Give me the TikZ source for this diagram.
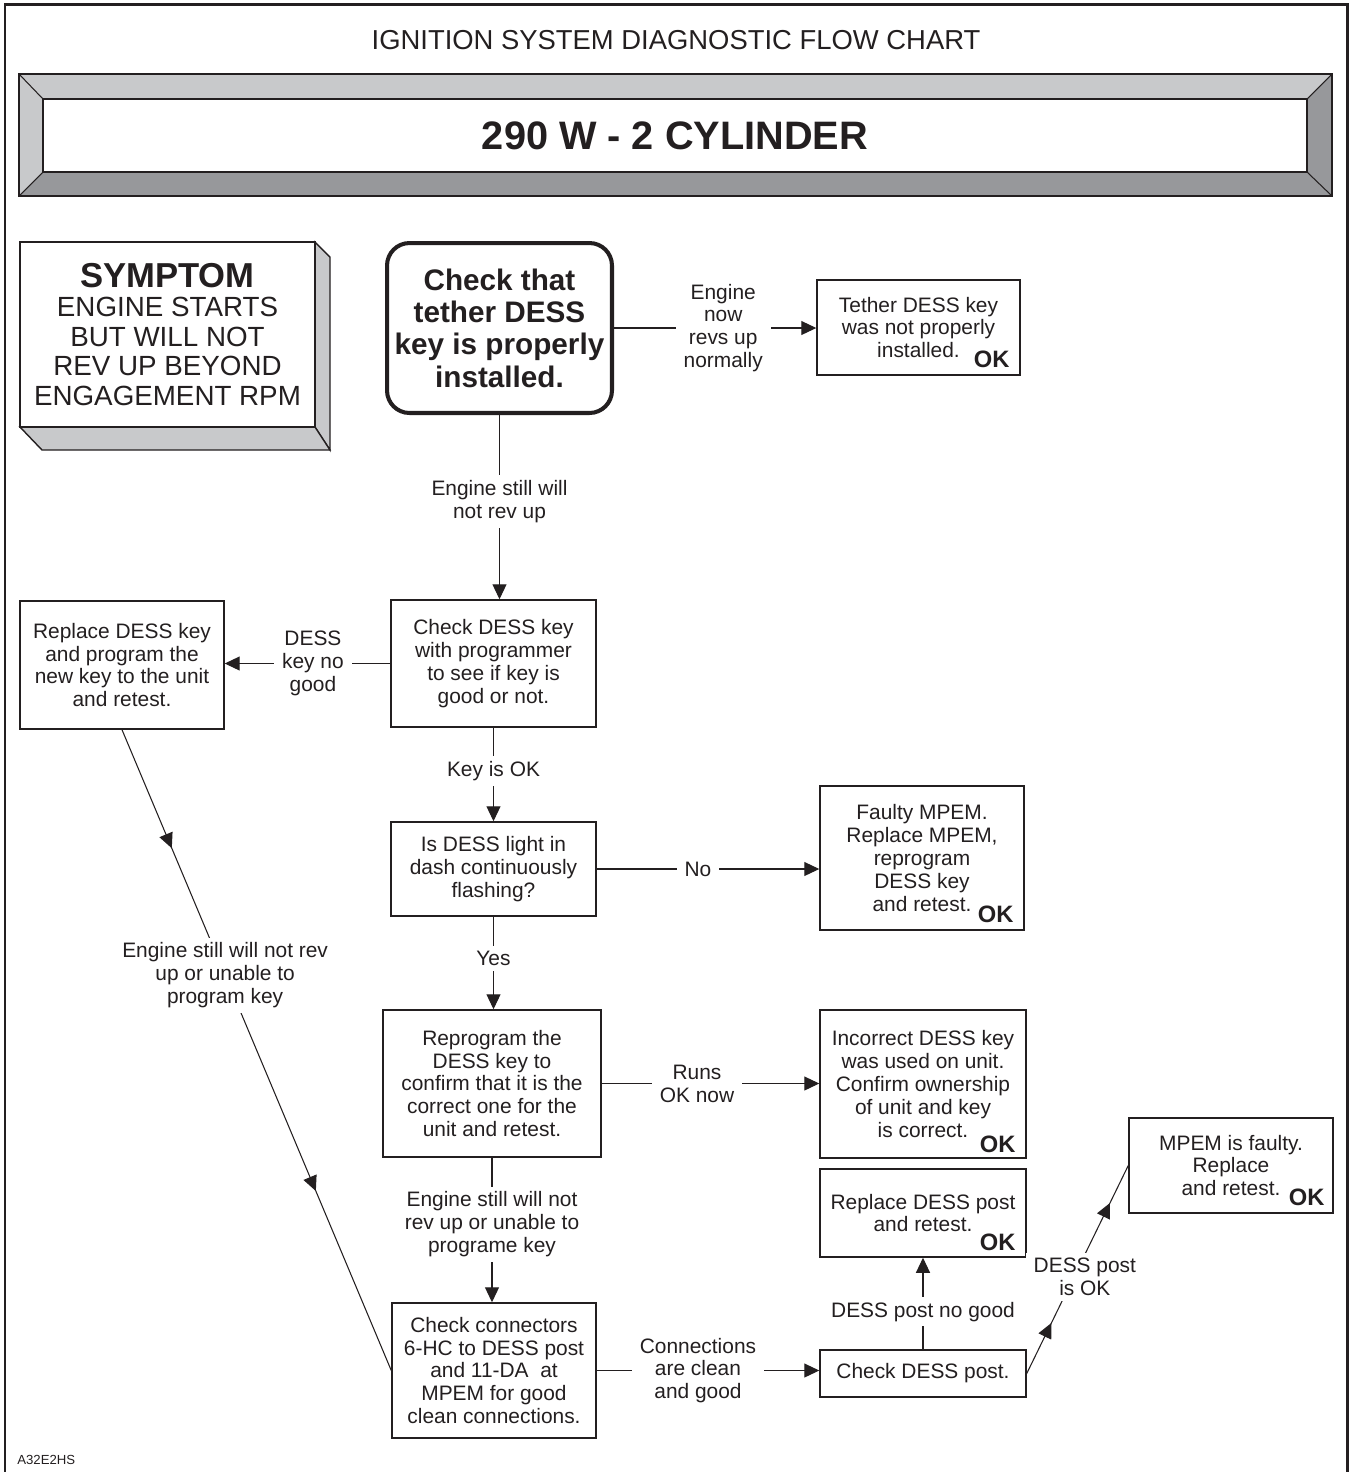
\documentclass[tikz,border=0pt]{standalone}
\usepackage{fontspec}
\setmainfont{Liberation Sans}
\usetikzlibrary{arrows.meta,decorations.markings}
\definecolor{ink}{HTML}{231F20}
\definecolor{bevlight}{HTML}{C8C9CB}
\definecolor{bevdark}{HTML}{97989B}
\begin{document}
\begin{tikzpicture}[x=0.02cm,y=-0.02cm,
  every node/.style={text=ink},
  body/.style={font=\fontsize{11.9}{13}\selectfont},
  stepbox/.style={draw=ink, line width=0.85pt, fill=white, body, align=center, inner sep=0pt},
  okmark/.style={font=\fontsize{13.5}{14}\selectfont\bfseries, inner sep=0pt, anchor=south east},
  link/.style={draw=ink, line width=0.6pt},
  tip/.style={-{Triangle[length=0.3cm,width=0.28cm]}},
  lbl/.style={body, fill=white, align=center, inner xsep=0.16cm, inner ysep=0.1cm},
  diagarrows/.style 2 args={postaction={decorate}, decoration={markings,
    mark=at position #1 with {\arrow{Triangle[length=0.3cm,width=0.28cm]}},
    mark=at position #2 with {\arrow{Triangle[length=0.3cm,width=0.28cm]}}}},
]
\useasboundingbox (0,0) rectangle (1355,1472);

% outer frame, open at the bottom
\draw[ink, line width=1.7pt] (5,1472) -- (5,4) -- (1347,4) -- (1347,1472);

% chart title
\node[font=\fontsize{15.6}{17}\selectfont, inner sep=0pt] (title) at (676,40) {IGNITION SYSTEM DIAGNOSTIC FLOW CHART};

% bevelled model banner
\fill[bevlight] (19,74) -- (1332,74) -- (1307,99) -- (43,99) -- cycle;
\fill[bevlight] (19,74) -- (43,99) -- (43,172) -- (19,196) -- cycle;
\fill[bevdark] (1332,74) -- (1332,196) -- (1307,172) -- (1307,99) -- cycle;
\fill[bevdark] (19,196) -- (43,172) -- (1307,172) -- (1332,196) -- cycle;
\draw[ink, line width=0.8pt] (19,74) rectangle (1332,196);
\draw[ink, line width=0.6pt] (19,74) -- (43,99) (1332,74) -- (1307,99)
  (19,196) -- (43,172) (1332,196) -- (1307,172);
\node[draw=ink, line width=0.8pt, fill=white, minimum width=25.28cm, minimum height=1.46cm, inner sep=0pt,
  font=\fontsize{22.6}{24}\selectfont\bfseries] (model) at (675,135.5) {290 W - 2 CYLINDER};

% symptom block with extruded sides
\filldraw[fill=bevlight, draw=ink, line width=0.8pt] (315,242) -- (330,257) -- (330,450) -- (315,427) -- cycle;
\filldraw[fill=bevlight, draw=ink, line width=0.8pt] (20,427) -- (42,450) -- (330,450) -- (315,427) -- cycle;
\node[draw=ink, line width=0.8pt, fill=white, minimum width=5.9cm, minimum height=3.7cm, inner sep=0pt,
  align=center, font=\fontsize{15.8}{16.8}\selectfont] (sym) at (167.5,334.5)
  {{\fontsize{19.7}{16.8}\selectfont\bfseries SYMPTOM}\\ENGINE STARTS\\BUT WILL NOT\\REV UP BEYOND\\ENGAGEMENT RPM};

% first check
\node[draw=ink, line width=2.3pt, rounded corners=0.45cm, minimum width=4.5cm, minimum height=3.4cm,
  inner sep=0pt, align=center, font=\fontsize{16.9}{18.4}\selectfont\bfseries] (rb) at (499.5,328)
  {Check that\\tether DESS\\key is properly\\installed.};

% process boxes
\node[stepbox, minimum width=4.06cm, minimum height=1.9cm] (teth) at (918.5,327.5)
  {Tether DESS key\\was not properly\\installed.};
\node[stepbox, minimum width=4.1cm, minimum height=2.54cm] (ck) at (493.5,663.5)
  {Check DESS key\\with programmer\\to see if key is\\good or not.};
\node[stepbox, minimum width=4.08cm, minimum height=2.56cm] (rep) at (122,665)
  {Replace DESS key\\and program the\\new key to the unit\\and retest.};
\node[stepbox, minimum width=4.1cm, minimum height=1.88cm] (light) at (493.5,869)
  {Is DESS light in\\dash continuously\\flashing?};
\node[stepbox, minimum width=4.08cm, minimum height=2.88cm] (faulty) at (922,858)
  {Faulty MPEM.\\Replace MPEM,\\reprogram\\DESS key\\and retest.};
\node[stepbox, minimum width=4.36cm, minimum height=2.94cm] (reprog) at (492,1083.5)
  {Reprogram the\\DESS key to\\confirm that it is the\\correct one for the\\unit and retest.};
\node[stepbox, minimum width=4.12cm, minimum height=2.96cm] (incorrect) at (923,1084)
  {Incorrect DESS key\\was used on unit.\\Confirm ownership\\of unit and key\\is correct.};
\node[stepbox, minimum width=4.12cm, minimum height=1.76cm] (rpost) at (923,1213)
  {Replace DESS post\\and retest.};
\node[stepbox, minimum width=4.12cm, minimum height=0.94cm] (post) at (923,1373.5)
  {Check DESS post.};
\node[stepbox, minimum width=4.08cm, minimum height=1.9cm] (mpem) at (1231,1165.5)
  {MPEM is faulty.\\Replace\\and retest.};
\node[stepbox, minimum width=4.08cm, minimum height=2.7cm] (conn) at (494,1370.5)
  {Check connectors\\6-HC to DESS post\\and 11-DA~~at\\MPEM for good\\clean connections.};

% OK marks
\node[okmark] (okA) at ([shift={(-11,-8)}]teth.south east) {OK};
\node[okmark] (okB) at ([shift={(-11,-8)}]faulty.south east) {OK};
\node[okmark] (okC) at ([shift={(-11,-6)}]incorrect.south east) {OK};
\node[okmark] (okD) at ([shift={(-11,-7)}]rpost.south east) {OK};
\node[okmark] (okE) at ([shift={(-9,-8)}]mpem.south east) {OK};

% connectors
\draw[link,tip] (rb.south) -- node[lbl,pos=0.47]{Engine still will\\not rev up} (rb.south |- ck.north);
\draw[link,tip] (rb.east) -- node[lbl,pos=0.54]{Engine\\now\\revs up\\normally} (rb.east -| teth.west);
\draw[link,tip] (ck.west) -- node[lbl,pos=0.467]{DESS\\key no\\good} (ck.west -| rep.east);
\draw[link,tip] (ck.south) -- node[lbl,pos=0.46]{Key is OK} (ck.south |- light.north);
\draw[link,tip] (light.east) -- node[lbl,pos=0.455]{No} (light.east -| faulty.west);
\draw[link,tip] (light.south) -- node[lbl,pos=0.45]{Yes} (light.south |- reprog.north);
\draw[link,tip] (reprog.east) -- node[lbl,pos=0.438]{Runs\\OK now} (reprog.east -| incorrect.west);
\draw[link,tip] (reprog.south) -- node[lbl,pos=0.46]{Engine still will not\\rev up or unable to\\programe key} (reprog.south |- conn.north);
\draw[link,tip] (conn.east) -- node[lbl,pos=0.455]{Connections\\are clean\\and good} (conn.east -| post.west);
\draw[link,tip] (post.north) -- node[lbl,pos=0.41]{DESS post no good} (rpost.south);
\draw[link, diagarrows={0.243}{0.82}] (post.east) -- node[lbl,pos=0.464,xshift=0.22cm]{DESS post\\is OK} (mpem.west);
\draw[link, diagarrows={0.185}{0.72}] (rep.south) -- node[lbl,pos=0.383]{Engine still will not rev\\up or unable to\\program key} (conn.west);

% drawing code
\node[font=\fontsize{7.5}{8}\selectfont, inner sep=0pt, anchor=base west] (code) at (17,1464) {A32E2HS};
\end{tikzpicture}
\end{document}
